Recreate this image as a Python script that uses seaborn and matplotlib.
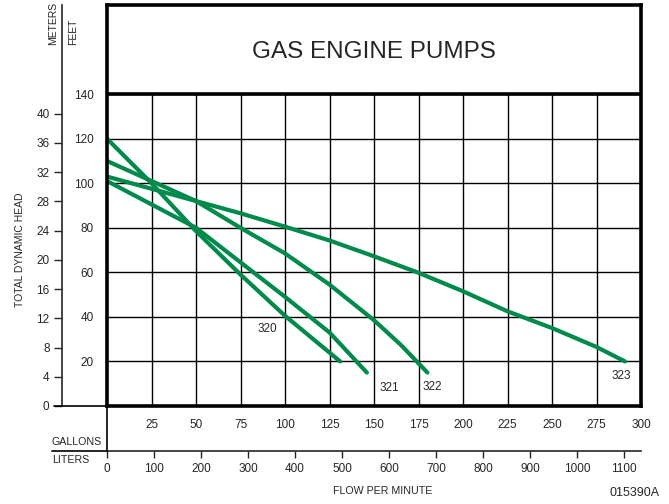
import matplotlib
matplotlib.use("Agg")
import matplotlib.pyplot as plt
import seaborn as sns
import pandas as pd
from matplotlib.lines import Line2D

# Pump curves: flow (gallons per minute) vs total dynamic head (feet)
gal_320 = [0, 25, 50, 75, 100, 131]
ft_320 = [120, 100, 78.5, 59, 40.5, 20]

gal_321 = [0, 25, 50, 75, 100, 125, 146]
ft_321 = [101, 90.5, 80, 64.5, 49, 33, 15]

gal_322 = [0, 25, 50, 75, 100, 125, 150, 165, 180]
ft_322 = [110, 101, 92, 80, 68.5, 54.5, 38.5, 27.5, 15]

gal_323 = [0, 25, 50, 75, 100, 125, 150, 175, 200, 225, 250, 275, 291]
ft_323 = [103, 97.5, 92, 86.5, 80.5, 74.3, 67.2, 59.8, 51.5, 42.5, 35, 26.5, 20]

models = ["320", "321", "322", "323"]
label_gal = [90, 158.5, 182.5, 289]
label_ft = [34.5, 8, 8.5, 13.5]

gal_ticks = list(range(0, 301, 25))
ft_ticks = list(range(0, 141, 20))
m_ticks = list(range(0, 41, 4))
l_ticks = list(range(0, 1101, 100))

df = pd.concat([
    pd.DataFrame({"gpm": g, "head": h, "model": m})
    for g, h, m in zip([gal_320, gal_321, gal_322, gal_323],
                       [ft_320, ft_321, ft_322, ft_323], models)
])

sns.set_style("white")
plt.rcParams["font.family"] = ["Liberation Sans", "DejaVu Sans"]
plt.rcParams["font.size"] = 8.5

GREEN = "#008a4b"
W, H = 669, 504
fig = plt.figure(figsize=(W / 100, H / 100), dpi=100)

# plot box covers 0..300 gpm and 0..180 ft (title band on top of 140 ft)
x0, x1, ytop, ybot = 107, 641, 5, 406
ax = fig.add_axes([x0 / W, 1 - ybot / H, (x1 - x0) / W, (ybot - ytop) / H])
ax.set_xlim(0, 300)
ax.set_ylim(0, 180)

# grid
ax.vlines(gal_ticks[1:-1], 0, 140, color="black", lw=1.0, zorder=1)
ax.hlines(ft_ticks[1:], 0, 300, color="black", lw=1.0, zorder=1)
ax.axhline(140, color="black", lw=2.6, zorder=3)

for m in models:
    sns.lineplot(data=df[df["model"] == m], x="gpm", y="head", ax=ax,
                 color=GREEN, lw=3, sort=False, estimator=None, zorder=2)

for m, gx, gy in zip(models, label_gal, label_ft):
    ax.text(gx, gy, m, ha="center", va="center", fontsize=8.5)

ax.text(150, 159, "GAS ENGINE PUMPS", ha="center", va="center", fontsize=17.5)

for s in ax.spines.values():
    s.set_visible(True)
    s.set_linewidth(2.6)
    s.set_color("black")

ax.set_xlabel("")
ax.set_ylabel("")
ax.set_xticks(gal_ticks)
ax.set_xticklabels([""] + [str(v) for v in gal_ticks[1:]])
ax.set_yticks(ft_ticks)
ax.set_yticklabels([""] + [str(v) for v in ft_ticks[1:]])
ax.tick_params(axis="both", direction="out", length=6.5, width=1.0,
               color="black", labelsize=8.5, pad=3)
ax.tick_params(axis="x", pad=3)

# meters axis
h_ax = ybot - ytop
sec_m = ax.secondary_yaxis((62 - x0) / (x1 - x0),
                           functions=(lambda f: f / 3.2808, lambda m: m * 3.2808))
sec_m.set_yticks(m_ticks)
sec_m.tick_params(direction="out", length=6, width=1.0, labelsize=8.5, pad=3)
sec_m.spines["left"].set_linewidth(1.2)

# liters axis
sec_l = ax.secondary_xaxis(-(451 - ybot) / h_ax,
                           functions=(lambda g: g * 3.7854, lambda l: l / 3.7854))
sec_l.set_xticks(l_ticks)
sec_l.tick_params(direction="out", length=5, width=1.0, labelsize=8.5, pad=4)
sec_l.spines["bottom"].set_linewidth(1.2)

# connecting lines outside the box
ax.add_line(Line2D([(54 - x0) / (x1 - x0), 0], [0, 0], transform=ax.transAxes,
                   color="black", lw=1.2, clip_on=False))
ax.add_line(Line2D([0, 0], [0, -(451 - ybot) / h_ax], transform=ax.transAxes,
                   color="black", lw=1.2, clip_on=False))
ax.add_line(Line2D([(52 - x0) / (x1 - x0), 0], [-(451 - ybot) / h_ax] * 2,
                   transform=ax.transAxes, color="black", lw=1.2, clip_on=False))

fig.text(53 / W, 1 - 45 / H, "METERS", rotation=90, ha="center", va="bottom", fontsize=7.5)
fig.text(73 / W, 1 - 45 / H, "FEET", rotation=90, ha="center", va="bottom", fontsize=7.5)
fig.text(20 / W, 1 - 250 / H, "TOTAL DYNAMIC HEAD", rotation=90, ha="center",
         va="center", fontsize=7.5)
fig.text(52 / W, 1 - 442 / H, "GALLONS", ha="left", va="center", fontsize=7.7)
fig.text(52 / W, 1 - 460 / H, "LITERS", ha="left", va="center", fontsize=7.7)
fig.text(333 / W, 1 - 491 / H, "FLOW PER MINUTE", ha="left", va="center", fontsize=7.7)
fig.text(610 / W, 1 - 493 / H, "015390A", ha="left", va="center", fontsize=9)

fig.savefig("out.png", dpi=100)
